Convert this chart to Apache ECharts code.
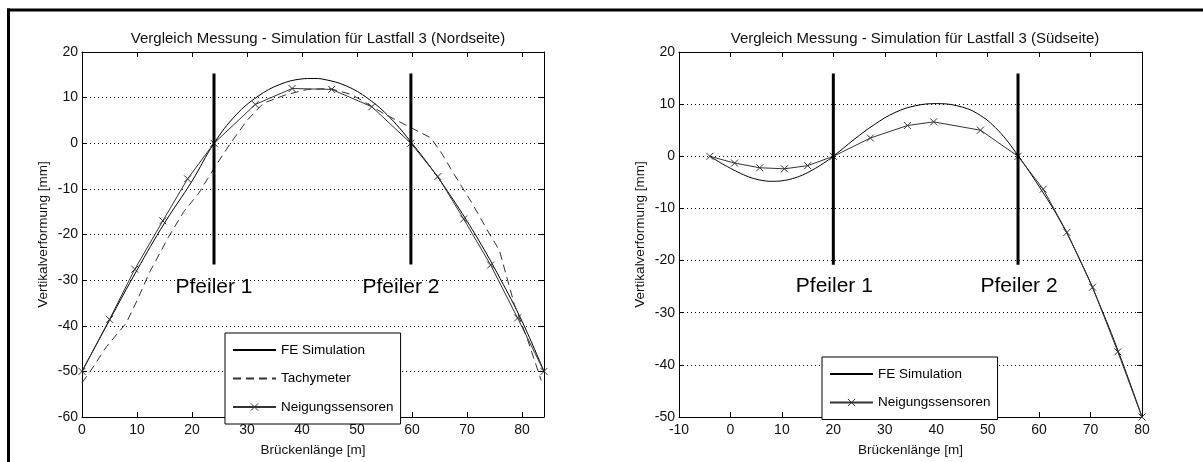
<!DOCTYPE html>
<html><head><meta charset="utf-8">
<script src="https://cdn.jsdelivr.net/npm/echarts@6/dist/echarts.min.js"></script>
<style>html,body{margin:0;padding:0;background:#fff}#c{width:1203px;height:462px}</style>
</head><body><div id="c"></div>
<script>
// ---- data ----
const titles = ['Vergleich Messung - Simulation für Lastfall 3 (Nordseite)', 'Vergleich Messung - Simulation für Lastfall 3 (Südseite)'];
const xName = 'Brückenlänge [m]';
const yName = 'Vertikalverformung [mm]';
const seriesNames = ['FE Simulation', 'Tachymeter', 'Neigungssensoren'];
const pierNames = ['Pfeiler 1', 'Pfeiler 2'];

// Nordseite (left)
const nordFE_x = [0, 5, 10, 15, 20, 24, 28, 32, 36, 40, 42, 44, 48, 52, 56, 60, 64, 68, 72, 76, 80, 84];
const nordFE_y = [-50, -38.8, -27.8, -17.5, -8.3, 0, 6.2, 10.3, 12.9, 14.1, 14.2, 14, 12.6, 9.8, 5.6, 0, -6.3, -13.3, -21, -29.6, -39, -50];
const nordTachy_x = [0, 1.5, 4.5, 8, 10, 12.2, 15.7, 18.5, 21.2, 24, 27, 30, 33, 37, 41, 45, 49, 51, 55, 60, 63.4, 65.5, 67.6, 71, 74.1, 75.9, 78.6, 81, 83.5];
const nordTachy_y = [-52.5, -50, -44.5, -39.5, -34.5, -28.5, -20.6, -15, -11, -5.5, 0, 5, 8.8, 10.6, 11.8, 12, 10.7, 9.3, 6.4, 3.3, 1.2, -2.4, -6.7, -13.3, -19.9, -23.5, -35.3, -43, -52];
const nordNeig_x = [0, 5, 9.6, 14.7, 19.2, 24, 31.5, 38.2, 45.4, 52.7, 59.8, 64.7, 69.4, 74.3, 79.2, 84];
const nordNeig_y = [-50, -38.6, -27.6, -17, -7.8, 0, 8.5, 12, 11.8, 8, 0, -7.3, -16.6, -26.7, -38.3, -50];
const nordPier_x = [24, 59.8];
const nordPier_top = 15.3, nordPier_bottom = -26.6;
const nordPierLabel_x = [24, 58];
const nordPierLabel_y = -31.6;

// Südseite (right)
const suedFE_x = [-4, -2, 0, 2, 4, 6, 8, 10, 12, 14, 16, 18, 20, 24, 28, 32, 36, 40, 44, 48, 52, 56, 60, 64, 68, 72, 76, 80];
const suedFE_y = [0, -1.2, -2.3, -3.3, -4.1, -4.6, -4.8, -4.7, -4.3, -3.6, -2.6, -1.4, 0, 3.2, 6.1, 8.4, 9.7, 10.1, 9.7, 8.2, 5, 0, -5.8, -12.2, -20, -29, -39, -50];
const suedNeig_x = [-4, 0.8, 5.7, 10.5, 15, 20, 27.2, 34.4, 39.5, 48.6, 55.9, 60.8, 65.4, 70.4, 75.3, 80];
const suedNeig_y = [0, -1.3, -2.2, -2.4, -1.8, 0, 3.5, 5.9, 6.6, 5, 0, -6.3, -14.6, -25.1, -37.5, -50];
const suedPier_x = [20, 55.9];
const suedPier_top = 15.9, suedPier_bottom = -20.8;
const suedPierLabel_x = [20.2, 56.1];
const suedPierLabel_y = -25;

// axis ranges / ticks
const nordXRange = [0, 84], nordYRange = [-60, 20];
const suedXRange = [-10, 80], suedYRange = [-50, 20];
const tickStep = 10;

// ---- helpers ----
const FONT = 'Liberation Sans, Arial, sans-serif';
const zip = (xs, ys) => xs.map((x, i) => [x, ys[i]]);
const crossPath = 'path://M0,0L10,10M10,0L0,10';

function xAxes(gi, range) {
  const base = {
    type: 'value', gridIndex: gi, min: range[0], max: range[1], interval: tickStep,
    axisLine: { show: true, onZero: false, lineStyle: { color: '#000', width: 1 } },
    axisTick: { show: true, inside: true, length: 5, lineStyle: { color: '#000' } },
    splitLine: { show: false }
  };
  return [
    Object.assign({}, base, {
      position: 'bottom', name: xName, nameLocation: 'middle', nameGap: 26,
      nameTextStyle: { fontFamily: FONT, fontSize: 13.5, color: '#111' },
      axisLabel: { show: true, margin: 6, fontFamily: FONT, fontSize: 14, color: '#111', showMaxLabel: range[1] % tickStep === 0 }
    }),
    Object.assign({}, base, { position: 'top', axisLabel: { show: false } })
  ];
}
function yAxes(gi, range) {
  const base = {
    type: 'value', gridIndex: gi, min: range[0], max: range[1], interval: tickStep,
    axisLine: { show: true, onZero: false, lineStyle: { color: '#000', width: 1 } },
    axisTick: { show: true, inside: true, length: 5, lineStyle: { color: '#000' } }
  };
  return [
    Object.assign({}, base, {
      position: 'left', name: yName, nameLocation: 'middle', nameGap: 32,
      nameTextStyle: { fontFamily: FONT, fontSize: 13.5, color: '#111' },
      axisLabel: { show: true, margin: 4, fontFamily: FONT, fontSize: 14, color: '#111' },
      splitLine: { show: true, lineStyle: { color: '#000', width: 1, type: [1, 3] } }
    }),
    Object.assign({}, base, { position: 'right', axisLabel: { show: false }, splitLine: { show: false } })
  ];
}

function feSeries(ai, xs, ys) {
  return { name: seriesNames[0], type: 'line', xAxisIndex: ai, yAxisIndex: ai, data: zip(xs, ys),
    smooth: 0.4, showSymbol: false, symbol: 'none', lineStyle: { color: '#000', width: 1 }, itemStyle: { color: '#000' }, z: 3 };
}
function tachySeries(ai, xs, ys) {
  return { name: seriesNames[1], type: 'line', xAxisIndex: ai, yAxisIndex: ai, data: zip(xs, ys),
    symbol: 'none', lineStyle: { color: '#333', width: 1, type: [8, 5] }, itemStyle: { color: '#333' }, z: 3 };
}
function neigSeries(ai, xs, ys) {
  return { name: seriesNames[2], type: 'line', xAxisIndex: ai, yAxisIndex: ai, data: zip(xs, ys),
    symbol: crossPath, symbolSize: 7, showSymbol: true,
    lineStyle: { color: '#333', width: 1 },
    itemStyle: { color: 'rgba(0,0,0,0)', borderColor: '#333', borderWidth: 1 }, z: 4 };
}
function pierSeries(ai, px, top, bottom) {
  return px.map(x => ({ type: 'line', xAxisIndex: ai, yAxisIndex: ai, data: [[x, top], [x, bottom]],
    symbol: 'none', silent: true, lineStyle: { color: '#000', width: 3 }, z: 5 }));
}
function pierLabels(ai, lx, ly) {
  return { type: 'scatter', xAxisIndex: ai, yAxisIndex: ai, symbolSize: 0, silent: true,
    itemStyle: { opacity: 1, color: '#000' },
    data: lx.map((x, i) => ({ value: [x, ly], name: pierNames[i] })),
    label: { show: true, position: 'inside', formatter: p => p.name, fontFamily: FONT, fontSize: 21, color: '#000', opacity: 1 }, z: 6 };
}
function legendItems(names) {
  return names.map(n => n === seriesNames[2]
    ? { name: n, itemStyle: { color: 'rgba(0,0,0,0)', borderColor: '#333', borderWidth: 1 } }
    : { name: n, itemStyle: { opacity: 0 } });
}
function legend(names, left, top) {
  return { data: legendItems(names), orient: 'vertical', left: left, top: top, padding: [10, 7, 10, 7],
    itemWidth: 43, itemHeight: 9, itemGap: 14.5,
    borderColor: '#000', borderWidth: 1, backgroundColor: '#fff',
    textStyle: { fontFamily: FONT, fontSize: 13.5, color: '#000' }, selectedMode: false };
}

const grids = [
  { left: 82, top: 52, width: 462, height: 365 },
  { left: 679, top: 52, width: 463, height: 365 }
];

const option = {
  animation: false,
  backgroundColor: '#fff',
  title: [
    { text: titles[0], left: 313, top: 26, textAlign: 'center', textStyle: { fontFamily: FONT, fontSize: 15, fontWeight: 'normal', color: '#111' } },
    { text: titles[1], left: 910, top: 26, textAlign: 'center', textStyle: { fontFamily: FONT, fontSize: 15, fontWeight: 'normal', color: '#111' } }
  ],
  grid: grids,
  xAxis: [...xAxes(0, nordXRange), ...xAxes(1, suedXRange)],
  yAxis: [...yAxes(0, nordYRange), ...yAxes(1, suedYRange)],
  legend: [
    legend(seriesNames, 225, 333),
    legend([seriesNames[0], seriesNames[2]], 822, 357)
  ],
  graphic: [
    { type: 'rect', shape: { x: 7, y: 8.5, width: 1196, height: 3 }, style: { fill: '#000' }, silent: true },
    { type: 'rect', shape: { x: 7, y: 8.5, width: 3, height: 454 }, style: { fill: '#000' }, silent: true }
  ],
  series: [
    feSeries(0, nordFE_x, nordFE_y),
    tachySeries(0, nordTachy_x, nordTachy_y),
    neigSeries(0, nordNeig_x, nordNeig_y),
    ...pierSeries(0, nordPier_x, nordPier_top, nordPier_bottom),
    pierLabels(0, nordPierLabel_x, nordPierLabel_y),
    feSeries(2, suedFE_x, suedFE_y),
    neigSeries(2, suedNeig_x, suedNeig_y),
    ...pierSeries(2, suedPier_x, suedPier_top, suedPier_bottom),
    pierLabels(2, suedPierLabel_x, suedPierLabel_y)
  ]
};
const chart = echarts.init(document.getElementById('c'), null, { renderer: 'canvas' });
chart.setOption(option);
</script>
</body></html>
